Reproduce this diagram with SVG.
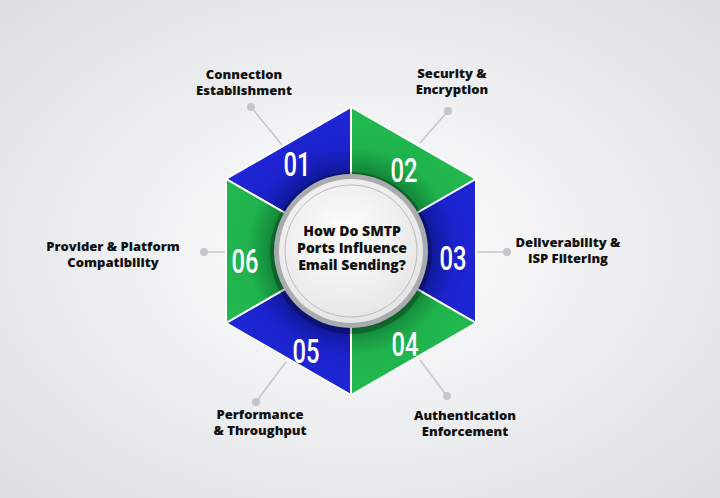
<svg xmlns="http://www.w3.org/2000/svg" width="720" height="498" viewBox="0 0 720 498">
<defs>
<radialGradient id="bg" cx="0.5" cy="0.5" r="0.7"><stop offset="0" stop-color="#ffffff"/><stop offset="1" stop-color="#dcdee1"/></radialGradient>
<radialGradient id="blueG" cx="351" cy="251" r="144" gradientUnits="userSpaceOnUse"><stop offset="0.5" stop-color="#0c168a"/><stop offset="0.72" stop-color="#1c22cc"/><stop offset="1" stop-color="#1f27d8"/></radialGradient>
<radialGradient id="greenG" cx="351" cy="251" r="144" gradientUnits="userSpaceOnUse"><stop offset="0.5" stop-color="#0f7a32"/><stop offset="0.72" stop-color="#20b24d"/><stop offset="1" stop-color="#22b94f"/></radialGradient>
<radialGradient id="disc" cx="0.45" cy="0.4" r="0.6"><stop offset="0" stop-color="#ffffff"/><stop offset="1" stop-color="#e6e6e6"/></radialGradient>
<style>
.lbl{font-family:"Open Sans","Liberation Sans",sans-serif;font-weight:800;font-size:13px;fill:#111;text-anchor:middle}
.num{font-family:"Roboto","Liberation Sans",sans-serif;font-weight:500;font-size:33px;fill:#fff;text-anchor:middle}
.ln{stroke:#c4c6ca;stroke-width:1.5;fill:none}
.dot{fill:#c4c6ca}
.seg{stroke:#fff;stroke-width:2}
</style>
</defs>
<rect width="720" height="498" fill="url(#bg)"/>
<g id="connectors">
<line class="ln" x1="251" y1="107" x2="282" y2="145"/><circle class="dot" cx="251" cy="107" r="4"/>
<line class="ln" x1="448" y1="111" x2="420" y2="143"/><circle class="dot" cx="448" cy="111" r="4"/>
<line class="ln" x1="477" y1="252" x2="507" y2="252"/><circle class="dot" cx="507" cy="252" r="4"/>
<line class="ln" x1="204" y1="252" x2="226" y2="252"/><circle class="dot" cx="204" cy="252" r="4"/>
<line class="ln" x1="256" y1="402" x2="286" y2="362"/><circle class="dot" cx="256" cy="402" r="4"/>
<line class="ln" x1="447" y1="396" x2="420" y2="360"/><circle class="dot" cx="447" cy="396" r="4"/>
</g>
<g id="node01"><polygon class="seg" fill="url(#blueG)" points="351,251 226,179 351,107"/><text class="num" transform="translate(297,176) scale(0.72,1)">01</text>
<text class="lbl" x="244" y="79">Connection</text><text class="lbl" x="244" y="95">Establishment</text></g>
<g id="node02"><polygon class="seg" fill="url(#greenG)" points="351,251 351,107 476,179"/><text class="num" transform="translate(404,182) scale(0.72,1)">02</text>
<text class="lbl" x="452" y="78">Security &amp;</text><text class="lbl" x="452" y="94">Encryption</text></g>
<g id="node03"><polygon class="seg" fill="url(#blueG)" points="351,251 476,179 476,323"/><text class="num" transform="translate(453,270) scale(0.72,1)">03</text>
<text class="lbl" x="568" y="247">Deliverability &amp;</text><text class="lbl" x="568" y="263">ISP Filtering</text></g>
<g id="node04"><polygon class="seg" fill="url(#greenG)" points="351,251 476,323 351,395"/><text class="num" transform="translate(405,356) scale(0.72,1)">04</text>
<text class="lbl" x="465" y="420">Authentication</text><text class="lbl" x="465" y="436">Enforcement</text></g>
<g id="node05"><polygon class="seg" fill="url(#blueG)" points="351,251 351,395 226,323"/><text class="num" transform="translate(306,363) scale(0.72,1)">05</text>
<text class="lbl" x="260" y="419">Performance</text><text class="lbl" x="260" y="435">&amp; Throughput</text></g>
<g id="node06"><polygon class="seg" fill="url(#greenG)" points="351,251 226,323 226,179"/><text class="num" transform="translate(245,273) scale(0.72,1)">06</text>
<text class="lbl" x="113" y="251">Provider &amp; Platform</text><text class="lbl" x="113" y="267">Compatibility</text></g>
<g id="center">
<circle cx="351" cy="253" r="81" fill="#000" opacity="0.25"/>
<circle cx="351" cy="251" r="77" fill="#a9abae"/>
<circle cx="351" cy="251" r="72" fill="url(#disc)"/>
<circle cx="351" cy="251" r="66" fill="none" stroke="#bbb" stroke-width="1"/>
<text class="lbl" x="352" y="236" style="font-size:14px">How Do SMTP</text>
<text class="lbl" x="352" y="253" style="font-size:14px">Ports Influence</text>
<text class="lbl" x="352" y="270" style="font-size:14px">Email Sending?</text>
</g>
</svg>
